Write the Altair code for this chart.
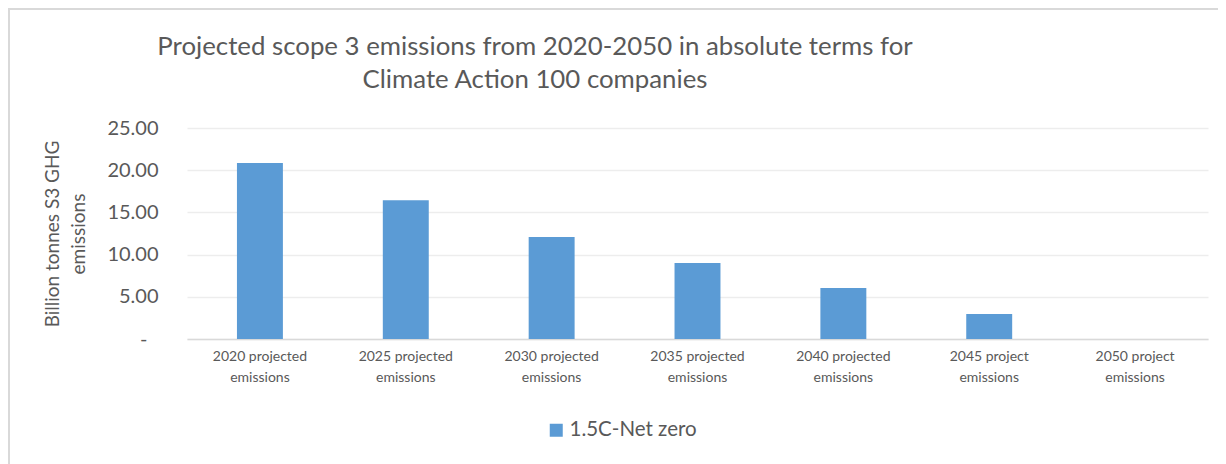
import altair as alt
import pandas as pd

categories = [
    "2020 projected emissions",
    "2025 projected emissions",
    "2030 projected emissions",
    "2035 projected emissions",
    "2040 projected emissions",
    "2045 project emissions",
    "2050 project emissions",
]
values = [20.85, 16.45, 12.08, 9.0, 6.03, 2.96, 0.0]
series_name = "1.5C-Net zero"
title_lines = [
    "Projected scope 3 emissions from 2020-2050 in absolute terms for",
    "Climate Action 100 companies",
]

df = pd.DataFrame({"category": categories, "value": values, "series": series_name})
border_df = pd.DataFrame({"b": [0]})
title_df1 = pd.DataFrame({"t": [title_lines[0]]})
title_df2 = pd.DataFrame({"t": [title_lines[1]]})

FONT = "Lato"
TXT = "#595959"

bars = alt.Chart(df).mark_bar(color="#5B9BD5").encode(
    x=alt.X(
        "category:N",
        sort=categories,
        title=None,
        scale=alt.Scale(paddingInner=0.685, paddingOuter=0.3425),
        axis=alt.Axis(
            labelAngle=0,
            labelExpr="[split(datum.label, ' ')[0] + ' ' + split(datum.label, ' ')[1], split(datum.label, ' ')[2]]",
            labelFontSize=14,
            labelLineHeight=21,
            labelPadding=10,
            labelColor=TXT,
            labelFont=FONT,
            ticks=False,
            domainColor="#D9D9D9",
            domainWidth=1.5,
            grid=False,
        ),
    ),
    y=alt.Y(
        "value:Q",
        title=["Billion tonnes S3 GHG", "emissions"],
        scale=alt.Scale(domain=[0, 25], nice=False),
        axis=alt.Axis(
            values=[0, 5, 10, 15, 20, 25],
            labelExpr="datum.value == 0 ? '-' : format(datum.value, '.2f')",
            labelFontSize=20,
            labelColor=TXT,
            labelFont=FONT,
            labelPadding={"condition": {"test": "datum.value == 0", "value": 40}, "value": 29},
            ticks=False,
            domain=False,
            gridColor="#EDEDED",
            gridWidth=1.5,
            titleFontSize=19,
            titleFont=FONT,
            titleFontWeight="normal",
            titleColor=TXT,
            titleLineHeight=26,
            titlePadding=18,
        ),
    ),
    color=alt.Color(
        "series:N",
        scale=alt.Scale(range=["#5B9BD5"]),
        legend=alt.Legend(
            title=None,
            orient="none",
            legendX=359,
            legendY=292,
            symbolType="square",
            symbolSize=169,
            symbolStrokeWidth=0,
            labelFontSize=20.5,
            labelFont=FONT,
            labelColor=TXT,
            labelOffset=3,
        ),
    ),
)

border = alt.Chart(border_df).mark_rect(
    fill=None, stroke="#D9D9D9", strokeWidth=2
).encode(
    x=alt.value(-178),
    x2=alt.value(1300),
    y=alt.value(-119),
    y2=alt.value(600),
)

title1 = alt.Chart(title_df1).mark_text(
    font=FONT, fontSize=25.8, color=TXT, align="center", baseline="middle"
).encode(text="t:N", x=alt.value(348), y=alt.value(-81))

title2 = alt.Chart(title_df2).mark_text(
    font=FONT, fontSize=25.8, color=TXT, align="center", baseline="middle"
).encode(text="t:N", x=alt.value(348), y=alt.value(-48))

chart = alt.layer(border, bars, title1, title2).properties(
    width=1021,
    height=211,
    autosize=alt.AutoSizeParams(type="none"),
    padding={"left": 179, "top": 120, "right": 10, "bottom": 125},
).configure_view(stroke=None)

chart.save("out.html", embed_options={"renderer": "svg", "actions": False})
